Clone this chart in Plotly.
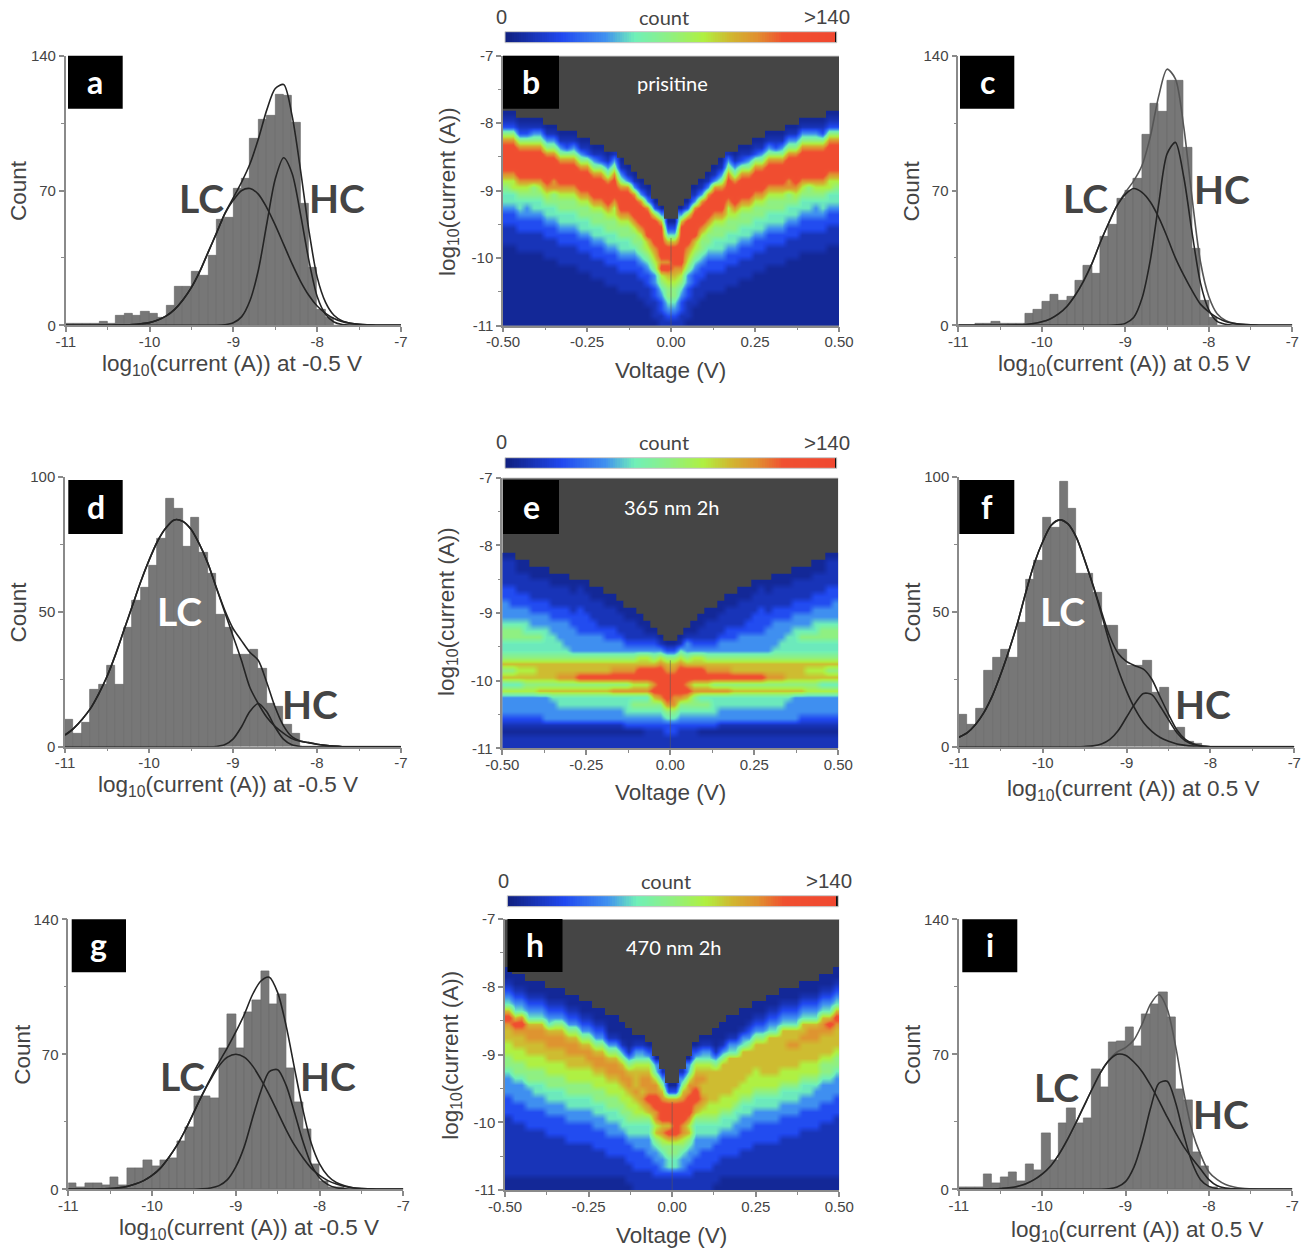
import plotly.graph_objects as go

W, H = 1311, 1249

# ---------- histogram bins (count per 0.1 decade bin, starting at -11) ----------
HIST_A = [1,1,1,1,2,1,5,6,5,7,6,4,10,20,20,28,26,36,55,56,71,76,97,107,109,120,119,105,63,30,8,4]
HIST_C = [0,0,1,1,2,1,1,1,6,8,12,16,13,15,23,31,27,46,52,66,70,76,99,115,111,127,127,92,40,13,4]
HIST_D = [10,5,9,21,23,30,23,44,54,59,67,77,92,88,74,85,72,64,49,44,34,34,36,29,16,15,8,5]
HIST_F = [12,8,14,28,33,36,33,46,62,69,85,81,98,88,64,64,57,45,45,36,30,30,32,20,22,6,7,2,1]
HIST_G = [3,1,3,3,2,6,2,11,11,15,12,15,16,25,32,48,48,47,73,91,73,92,98,113,96,101,63,45,31,13,4,1,1]
HIST_I = [1,1,1,8,3,6,9,4,13,10,29,15,34,42,34,37,62,53,76,77,84,74,91,96,102,89,52,46,19,12,1]

# ---------- fitted curves read at 0.1 steps from -11 ----------
FIT_A_LC = [0]*6 + [.1,.2,.4,.8,1.4,2.8,4.9,8.3,13.3,19.7,28,38,48,58,65,70,71,68,61,52,42,32,23,15.6,10,6.2,3.5,1.9,1,.5,.2]
FIT_A_HC = [0]*19 + [.3,1.3,4.5,13,29,53,76,87,79,58,34,15,5.7,1.7,.4,.1]
FIT_A_TOT = [0]*6 + [.1,.2,.4,.8,1.4,2.8,4.9,8.3,13.3,19.7,28,38,48,58.3,66.3,74.5,84,97,112,123,125,109,81,49.6,25,11.9,5.2,2.3,1.1,.5,.2]
FIT_C_LC = [0]*6 + [.1,.2,.4,.9,1.8,3.3,5.9,9.8,15.6,23,32,43,53,62,68,71,69,64,56,46,35,26,18,11,7,4,2,1,.5,.2]
FIT_C_HC = [0]*19 + [.2,1,4,14,34,63,89,95,77,48,22,8,2,.5]
FIT_C_TOT = [0]*6 + [.1,.2,.4,.9,1.8,3.3,5.9,9.8,15.6,23,32,43,53,62.2,69,75,83,98,119,133,128,103,66,33,15,6,2.5,1,.5,.2]
FIT_D_LC = [4.3,6.7,10,14,19.5,26,34,43,52,61,69,76,81,84,83.5,80.5,75,68,59,50,41,32,22,16,11,7.5,5,3,2,1.5,.9,.5,.2]
FIT_D_HC = [0]*18 + [.1,.7,2.8,7.3,13,16,13,7.3,2.8,.7,.1]
FIT_D_TOT = [4.3,6.7,10,14,19.5,26,34,43,52,61,69,76,81,84,83.5,80.5,75,68,59.1,50.7,43.8,39.3,35,32,24,14.8,7.8,3.7,2.1,1.5,.9,.5,.2]
FIT_F_LC = [3.5,5.2,8.3,12.8,19,27,36,46,57.5,68,76,82,84,82.5,77.5,69,59.5,49,38,28.5,20.5,14,9,5.7,3.4,2,1,.5,.2]
FIT_F_HC = [0]*15 + [.1,.3,1,2.7,6,11,16,19.7,19.3,15,10,5.2,2.2,.8,.2]
FIT_F_TOT = [3.5,5.2,8.3,12.8,19,27,36,46,57.5,68,76,82,84,82.5,77.5,69.1,59.8,50,40.7,34.5,31.5,30,28.7,25,18.4,12,6.2,2.7,1,.2]
FIT_G_LC = [0]*4 + [.2,.4,.8,1.5,2.7,4.5,7.2,11,16.5,23,31,40,49,57,64,68.5,70,68.5,64,57,49,40,31,23,16.5,11,7.2,4.5,2.7,1.5,.8,.4,.2]
FIT_G_HC = [0]*16 + [.2,.7,1.9,5,11.6,22,37,51,61,62,54,40,25,13,6,2.4,.8,.3]
FIT_G_TOT = [0]*4 + [.2,.4,.8,1.5,2.7,4.5,7.2,11,16.5,23,31,40,49.2,57.7,65.9,73.5,81.6,90.5,101,108,110,102,85,63,41.5,24,13.2,6.9,3.5,1.8,.8,.4,.2]
FIT_I_LC = [0]*5 + [.4,.8,1.5,2.8,4.9,7.9,12,18,25.5,34,43,52,60.5,66.7,70,69.5,66,61,54,46,37.5,29.4,22,16,10.5,5,1.8,.6,.2]
FIT_I_HC = [0]*18 + [.2,1.2,4,11.4,24.7,42,55,56,45,28,13.6,5,1.5,.3]
FIT_I_TOT = [0]*5 + [.4,.8,1.5,2.8,4.9,7.9,12,18,25.5,34,43,52,60.5,66.9,71.2,73.5,77.4,85.7,96,101,93.5,74.4,50,30,18,9,5,2.5,1.2,.5,.2]

# ---------- 2D maps: one string per voltage column (-0.49 ... 0.49), read bottom-up from
# log10(I) = -10.95 in 0.1 steps; each character is a colour level;
# rows above the end of the string are empty ----------
LEVEL_COUNTS = [5, 12, 25, 42, 54, 70, 84, 95, 106, 126]

MAP_B = [
"00000000000011122344568999985210","00000000000011122344668999985210","0000000000011122344568999985210",
"0000000000011122334568999985210","0000000000011122344558999985310","0000000000011122344568999985310",
"000000000011122344568999985310","000000000011122344558899985310","00000000011122344556899985310",
"00000000011122344556899985210","00000000011122344556899985310","0000000011122344556899985310",
"0000000011122344556899985210","000000011122344556899985310","000000011122344556899985210",
"00000011122344556899985310","00000011122344556689998531","0000011122344556899985310",
"000001112234455689998310","00000111223455689998310","0000111223455689998310",
"000111223456799998310","0111223356789999620","112234569899999730","1234556798997420",
"1234556789997420","112234568999999730","0111223356789999620","000111223456799998310",
"0000111223455689998310","00000111223455689998310","000001112234455689998310",
"0000011122344556899985310","00000011122344556689998531","00000011122344556899985310",
"000000011122344556899985210","000000011122344556899985310","0000000011122344556899985210",
"0000000011122344556899985310","00000000011122344556899985310","00000000011122344556899985210",
"00000000011122344556899985310","000000000011122344558899985310","000000000011122344568999985310",
"0000000000011122344568999985310","0000000000011122344558999985310","0000000000011122334568999985310",
"0000000000011122344568999985210","00000000000011122344668999985210","00000000000011122344568999985210",
]
MAP_E = [
"11012333647575445543332211110","11012333647575445543322211110","1101233364767544554332211100",
"1101233365767544544332211100","110123336576754454332211100","110123337577754454332211100",
"110133337577754444332211100","11013334757775444332211100","11013344758775443332211100",
"11013344758775433332211100","1101334475877533332211100","1101334475977533322221110",
"1101334475977533322211100","110133447597753332211100","110133447597753332111100",
"11013344759775332211100","11013344859875332211100","1101334485987533211100",
"110234448598753211100","110234548698753211100","11023454869976321100",
"1112345486997632100","111234579899753210","11123458999986310","1122458999987520",
"1122458899987520","11123458999986410","111234579899753310","1112345586997632100",
"11023454869976321100","110234548698753211100","110234448598753211100",
"1101334485987533211100","11013344859875332211100","11013344759775332211100",
"110133447597753332111100","110133447597753332211100","1101334475977533322211100",
"1101334475977533322221110","1101334475877533332211100","11013344758775433332211100",
"11013344758775443332211100","11013334757775444332211100","110133337577754444332211100",
"110123337577754454332211100","110123336576754454332211100","1101233365767544544332211100",
"1101233364767544554332211100","11012333647575445543322211110","11012333647575445543332211110",
]
MAP_H = [
"001111111112223334556677897432100","00111111112223334556677897432100","00111111112223334556677898432100",
"0011111112223334556677887432100","0011111112223344556677887432100","0011111112223344556677887432100",
"001111112223344556677887432100","001111112223344556677887532100","001111112223344556677887532100",
"00111112223344556677887532100","00111112223344556677887532100","0011111222334455667787532100",
"0011111222334455667887532100","001111222334455667887532100","001111222334455667887532100",
"00111222334455667887531000","00111222334455667887531000","0011122234455667887531000",
"011122234455667887531000","11122233445667877764310","11122233445678788764310",
"1112233344578988876420","11223345768899886430","112334568799987531","1124455797999720",
"1124455799999720","112334568899987531","11223345768999886430","1112233344578998876420",
"11122233445678778764310","11122233445667777764310","011122234456677777531000",
"0011122234456677777531000","00111222344566777777431000","00111222334456677777431000",
"001111222334456677777431000","001111222334456667777532100","0011111222334456667777532100",
"0011111222334456677777532100","00111112223344566777777432100","00111112223344566777777432100",
"001111112223344566777777432100","001111112223344566777877432100","001111112223344566777877432100",
"0011111112223344566777877432100","0011111112223344566777887432100","0011111112223334566777887432100",
"00111111112223334556777887432100","00111111112223334556777897432100","001111111112223334556777897432100",
]
CBAR_COUNTS = list(range(0, 142))

# ---------- tick labels ----------
HIST_XT = [-11, -10, -9, -8, -7]
HIST_XT_TEXT = ["-11", "-10", "-9", "-8", "-7"]
MAP_XT = [-0.5, -0.25, 0, 0.25, 0.5]
MAP_XT_TEXT = ["-0.50", "-0.25", "0.00", "0.25", "0.50"]
MAP_YT = [-11, -10, -9, -8, -7]
MAP_YT_TEXT = ["-11", "-10", "-9", "-8", "-7"]

SANS = "Liberation Sans"
LATO = "Lato"
AXC = "#8a8a8a"
TXT = "#444444"

COLORSCALE = [[0,"#102080"],[.17,"#2048f0"],[.3,"#4090f0"],[.39,"#70f0b8"],[.5,"#90f080"],
              [.6,"#b0f040"],[.68,"#d0b830"],[.76,"#e09030"],[.84,"#f05030"],[.995,"#f04830"],
              [.9965,"#101010"],[1,"#101010"]]

fig = go.Figure()
layout = {}
shapes, annots = [], []

def px(x): return x / W
def py(y): return 1 - y / H

def ann(x, y, text, size, color=TXT, family=SANS, angle=0, weight=None):
    f = dict(size=size, color=color, family=family)
    if weight: f["weight"] = weight
    annots.append(dict(x=px(x), y=py(y), xref="paper", yref="paper", text=text, showarrow=False,
                       xanchor="center", yanchor="middle", textangle=angle, font=f))

def badge(x0, x1, y0, y1, letter):
    shapes.append(dict(type="rect", xref="paper", yref="paper", x0=px(x0), x1=px(x1),
                       y0=py(y1), y1=py(y0), fillcolor="black", line_width=0, layer="above"))
    ann((x0 + x1) / 2, (y0 + y1) / 2 - 1, letter, 32, "white", LATO, weight=700)

def axes(n, x0, x1, ytop, ybot, xrange, yrange, xt, xtt, xminor, yt, ytt, yminor):
    common = dict(showgrid=False, zeroline=False, showline=True, linecolor=AXC, linewidth=1.5,
                  ticks="outside", ticklen=5, tickwidth=1.5, tickcolor=AXC, mirror=False,
                  tickfont=dict(family=SANS, size=15, color=TXT), fixedrange=True)
    layout[f"xaxis{n}"] = dict(common, domain=[px(x0), px(x1)], range=xrange, anchor=f"y{n}",
                               tickvals=xt, ticktext=xtt, ticklabelstandoff=-3,
                               minor=dict(tickvals=xminor, ticks="outside", ticklen=3, tickwidth=1.2, tickcolor=AXC))
    layout[f"yaxis{n}"] = dict(common, domain=[py(ybot), py(ytop)], range=yrange, anchor=f"x{n}",
                               tickvals=yt, ticktext=ytt,
                               minor=dict(tickvals=yminor, ticks="outside", ticklen=3, tickwidth=1.2, tickcolor=AXC))

def pad41(v):
    return list(v) + [0] * (41 - len(v))

FIT_X = [-11 + 0.1 * i for i in range(41)]
HIST_X = [-10.95 + 0.1 * i for i in range(40)]

def hist_panel(n, box, ymax, ymid, hist, lc, hc, tot, totcolor, xlabel, xpos, cpos, lcpos, hcpos, lccolor, badgebox, letter):
    x0, x1, yt, yb = box
    axes(n, x0, x1, yt, yb, [-11, -7], [0, ymax], HIST_XT, HIST_XT_TEXT,
         [-10.5, -9.5, -8.5, -7.5], [0, ymid, ymax], ["0", str(ymid), str(ymax)], [ymid / 2, ymid * 1.5])
    xa, ya = f"x{n}", f"y{n}"
    fig.add_trace(go.Bar(x=HIST_X, y=list(hist) + [0] * (40 - len(hist)), width=0.1, xaxis=xa, yaxis=ya,
                         marker=dict(color="#777777", line=dict(color="#6a6a6a", width=0.7)), showlegend=False))
    for vals, col in ((tot, totcolor), (lc, "#242424"), (hc, "#242424")):
        fig.add_trace(go.Scatter(x=FIT_X, y=pad41(vals), mode="lines", xaxis=xa, yaxis=ya, cliponaxis=False,
                                 line=dict(color=col, width=1.6, shape="spline", smoothing=0.8), showlegend=False))
    ann(xpos[0], xpos[1], xlabel, 22.5)
    ann(cpos[0], cpos[1], "Count", 22.5, angle=-90)
    ann(lcpos[0], lcpos[1], "LC", 39, lccolor, LATO, weight=700)
    ann(hcpos[0], hcpos[1], "HC", 39, "#444444", LATO, weight=700)
    badge(*badgebox, letter)

def map_panel(n, box, cols, cbar, toplabels_y, zero_x, count_x, gt_x, caption, capxy, xt_pos, yt_pos, badgebox, letter):
    x0, x1, yt, yb = box
    axes(n, x0, x1, yt, yb, [-0.5, 0.5], [-11, -7], MAP_XT, MAP_XT_TEXT,
         [-0.375, -0.125, 0.125, 0.375], MAP_YT, MAP_YT_TEXT, [-10.5, -9.5, -8.5, -7.5])
    layout[f"xaxis{n}"]["layer"] = "above traces"
    layout[f"yaxis{n}"]["layer"] = "above traces"
    xa, ya = f"x{n}", f"y{n}"
    shapes.append(dict(type="rect", xref=xa, yref=ya, x0=-0.5, x1=0.5, y0=-11, y1=-7,
                       fillcolor="#454545", line_width=0, layer="below"))
    # light rule along the top of the map
    shapes.append(dict(type="line", xref=xa, yref=ya, x0=-0.5, x1=0.5, y0=-7, y1=-7,
                       line=dict(color="#c8c8c8", width=1.5), layer="above"))
    z = []
    for r in range(40):
        row = []
        for c in cols:
            row.append(LEVEL_COUNTS[int(c[r])] if r < len(c) else None)
        z.append(row)
    fig.add_trace(go.Heatmap(z=z, x0=-0.49, dx=0.02, y0=-10.95, dy=0.1, xaxis=xa, yaxis=ya,
                             zmin=0, zmax=141, colorscale=COLORSCALE, zsmooth="best", hoverongaps=False,
                             showscale=False))
    # thin dark trace along V = 0 below the cusp
    shapes.append(dict(type="line", xref=xa, yref=ya, x0=0, x1=0, y0=-11, y1=-9.7,
                       line=dict(color="rgba(90,90,90,0.55)", width=1), layer="above"))
    # colour key drawn as a one-row heatmap on its own hidden axes
    cx0, cx1, cy0, cy1 = cbar
    nb = n + 10
    hidden = dict(visible=False, fixedrange=True)
    layout[f"xaxis{nb}"] = dict(hidden, domain=[px(cx0), px(cx1)], range=[0, 142], anchor=f"y{nb}")
    layout[f"yaxis{nb}"] = dict(hidden, domain=[py(cy1), py(cy0)], range=[0, 1], anchor=f"x{nb}")
    fig.add_trace(go.Heatmap(z=[CBAR_COUNTS], x0=0.5, dx=1, y0=0.5, dy=1, xaxis=f"x{nb}", yaxis=f"y{nb}",
                             zmin=0, zmax=141, colorscale=COLORSCALE, zsmooth=False, showscale=False))
    shapes.append(dict(type="rect", xref="paper", yref="paper", x0=px(cx0), x1=px(cx1), y0=py(cy1), y1=py(cy0),
                       line=dict(color="#c4c4c4", width=1), layer="above"))
    ann(zero_x, toplabels_y, "0", 20)
    ann(count_x, toplabels_y, "count", 20, "#444444", LATO)
    ann(gt_x, toplabels_y, "&gt;140", 20.5)
    ann(capxy[0], capxy[1], caption, 20, "white", LATO)
    ann(xt_pos[0], xt_pos[1], "Voltage (V)", 22.5)
    ann(yt_pos[0], yt_pos[1], "log<sub>10</sub>(current (A))", 22.5, angle=-90)
    badge(*badgebox, letter)

XL_N = "log<sub>10</sub>(current (A)) at -0.5 V"
XL_P = "log<sub>10</sub>(current (A)) at 0.5 V"

hist_panel(1, (65.7, 401, 55.7, 325.3), 140, 70, HIST_A, FIT_A_LC, FIT_A_HC, FIT_A_TOT, "#242424", XL_N,
           (232.3, 365), (18.3, 190.7), (201.7, 198), (337, 198), "#444444", (68, 122.7, 55.7, 108.7), "a")
map_panel(2, (503, 839, 55.7, 325.7), MAP_B, (505, 836.7, 31.7, 42.7), 16.7, 501.7, 664, 826.7,
          "prisitine", (672.3, 82.7), (670, 370.7), (448.3, 191.7), (503, 559, 55.7, 108.7), "b")
hist_panel(3, (958.3, 1292.3, 55.7, 325.3), 140, 70, HIST_C, FIT_C_LC, FIT_C_HC, FIT_C_TOT, "#555555", XL_P,
           (1124.3, 365), (911.7, 190.7), (1085, 198), (1222, 189), "#444444", (960, 1014.3, 55.7, 108.7), "c")
hist_panel(4, (65, 401, 476.7, 746.7), 100, 50, HIST_D, FIT_D_LC, FIT_D_HC, FIT_D_TOT, "#242424", XL_N,
           (227.7, 786), (18.3, 612.3), (179, 610.7), (310, 704), "white", (68.3, 122.7, 480, 534), "d")
map_panel(5, (502.3, 838.3, 477.7, 748.3), MAP_E, (505, 836.7, 457.7, 468.3), 442, 501.7, 664, 826.7,
          "365 nm 2h", (671.7, 506.7), (670, 792.7), (447.3, 611.7), (503, 559, 480, 534), "e")
hist_panel(6, (959, 1294.3, 476.7, 746.7), 100, 50, HIST_F, FIT_F_LC, FIT_F_HC, FIT_F_TOT, "#242424", XL_P,
           (1133.3, 790), (912.3, 612.3), (1062, 610.7), (1203, 704), "white", (959.3, 1014.3, 480, 534), "f")
hist_panel(7, (68.3, 403.3, 919.3, 1189.3), 140, 70, HIST_G, FIT_G_LC, FIT_G_HC, FIT_G_TOT, "#242424", XL_N,
           (249, 1229.3), (21.7, 1054), (182, 1075.7), (328, 1075.7), "#444444", (71.7, 126, 919.3, 972.3), "g")
map_panel(8, (505, 839.3, 919, 1190), MAP_H, (507.3, 838.3, 895.7, 906.7), 880.7, 503.7, 666, 828.7,
          "470 nm 2h", (673.3, 946.7), (671.7, 1235), (451.7, 1055), (507.5, 562.5, 919, 972), "h")
hist_panel(9, (958.7, 1292.3, 919.3, 1189.3), 140, 70, HIST_I, FIT_I_LC, FIT_I_HC, FIT_I_TOT, "#555555", XL_P,
           (1137.3, 1230.7), (911.7, 1054), (1056.7, 1087), (1221, 1114), "#444444", (962.3, 1017.3, 919.3, 972.3), "i")

fig.update_layout(width=W, height=H, margin=dict(l=0, r=0, t=0, b=0, autoexpand=False), paper_bgcolor="white", plot_bgcolor="rgba(0,0,0,0)",
                  barmode="overlay", bargap=0, showlegend=False, shapes=shapes, annotations=annots, **layout)
fig.write_html("out.html", config={"displayModeBar": False},
               post_script="document.body.style.margin='0';document.documentElement.style.overflow='hidden';")
